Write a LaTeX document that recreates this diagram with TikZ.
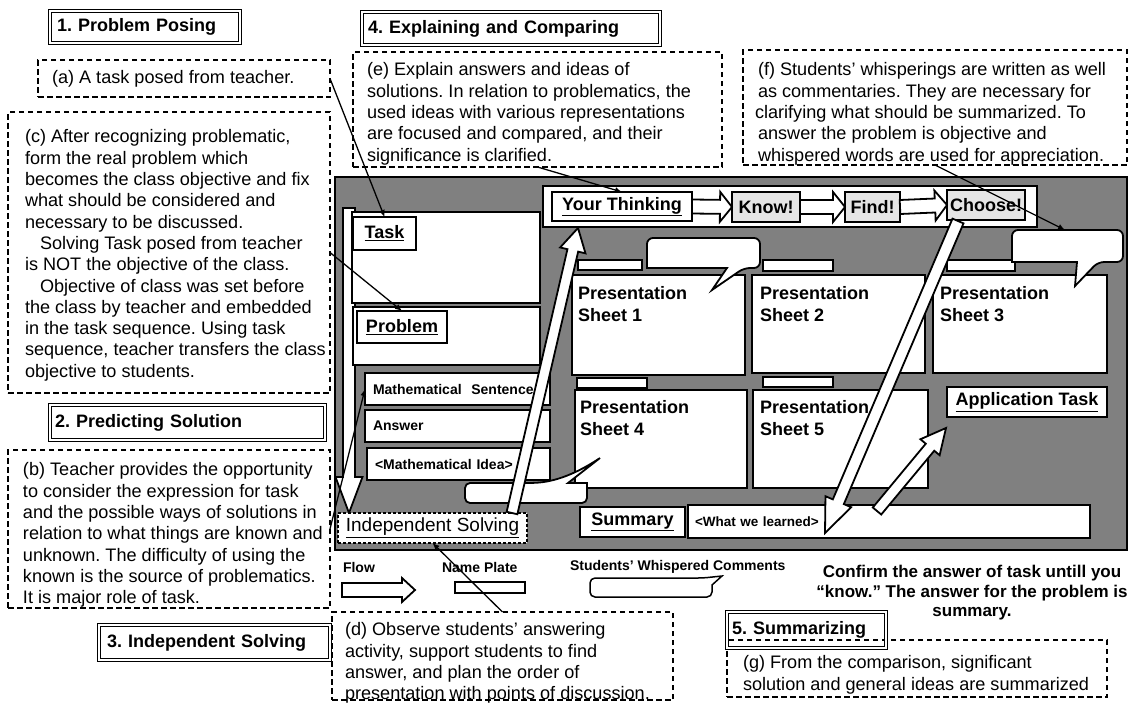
\documentclass[tikz,border=0pt]{standalone}
\usepackage{fontspec}
\setmainfont{Liberation Sans}
\usetikzlibrary{calc,arrows.meta}
\frenchspacing

% Block arrow drawn as an outlined polygon:
% #1 tail, #2 tip, #3 shaft half-width, #4 head half-width, #5 head length
\newcommand\blockarrow[5]{%
  \path ($(#2)!#5!(#1)$) coordinate (babase);
  \draw[blockarr] ($(#1)!#3!90:(#2)$) -- ($(babase)!#3!90:(#2)$)
    -- ($(babase)!#4!90:(#2)$) -- (#2) -- ($(babase)!#4!-90:(#2)$)
    -- ($(babase)!#3!-90:(#2)$) -- ($(#1)!#3!-90:(#2)$) -- cycle;
}

\begin{document}
\begin{tikzpicture}[x=1pt,y=-1pt,
  every node/.style={inner sep=0pt,outer sep=0pt},
  txt/.style={anchor=north west,align=left,font=\fontsize{18.1}{21.3}\selectfont},
  note/.style={draw,fill=white,line width=2pt,dash pattern=on 5.5pt off 3.5pt},
  heading/.style={draw,double,double distance=2.2pt,line width=1pt,align=left,
    font=\bfseries\fontsize{18}{21}\selectfont},
  board/.style={draw,line width=2.5pt,fill=black!50},
  panel/.style={draw,line width=1.8pt,fill=white},
  plate/.style={draw,line width=1.5pt,fill=white},
  lbl/.style={font=\bfseries\fontsize{18}{21}\selectfont},
  mbox/.style={panel,align=left,font=\bfseries\fontsize{14}{16}\selectfont},
  stepbox/.style={draw,line width=1.3pt,fill=black!10,font=\bfseries\fontsize{18}{21}\selectfont},
  sheettxt/.style={txt,font=\bfseries\fontsize{18}{21.8}\selectfont},
  blockarr/.style={draw,fill=white,line width=1.8pt,line join=miter},
  bubble/.style={draw,fill=white,line width=1.8pt},
  conn/.style={line width=1.3pt,-{Latex[length=7pt,width=6pt]}},
  small/.style={font=\bfseries\fontsize{14}{16}\selectfont},
]
\useasboundingbox (0,0) rectangle (1130,704);

% ---------- explanatory notes ----------
\node[note,minimum width=292,minimum height=37] (a) at (184,78.5) {};
\node[txt] (at) at (52,69) {\strut(a) A task posed from teacher.};

\node[note,minimum width=322,minimum height=281] (c) at (169,252.5) {};
\node[txt] (ct) at (25,128) {\strut(c) After recognizing problematic,\\
form the real problem which\\
becomes the class objective and fix\\
what should be considered and\\
necessary to be discussed.\\
\hspace*{15pt}Solving Task posed from teacher\\
is NOT the objective of the class.\\
\hspace*{15pt}Objective of class was set before\\
the class by teacher and embedded\\
in the task sequence. Using task\\
sequence, teacher transfers the class\\
objective to students.};

\node[note,minimum width=322,minimum height=158] (b) at (169,529) {};
\node[txt] (bt) at (23,461) {\strut(b) Teacher provides the opportunity\\
to consider the expression for task\\
and the possible ways of solutions in\\
relation to what things are known and\\
unknown. The difficulty of using the\\
known is the source of problematics.\\
It is major role of task.};

\node[note,minimum width=369,minimum height=115] (e) at (537.5,109.5) {};
\node[txt] (et) at (367,61) {\strut(e) Explain answers and ideas of\\
solutions. In relation to problematics, the\\
used ideas with various representations\\
are focused and compared, and their\\
significance is clarified.};

\node[note,minimum width=384,minimum height=115] (f) at (935,107.5) {};
\node[txt] (ft) at (758,61) {\strut(f) Students’ whisperings are written as well\\
as commentaries. They are necessary for\\
\hspace*{-3pt}clarifying what should be summarized. To\\
answer the problem is objective and\\
whispered words are used for appreciation.};

\node[note,minimum width=341,minimum height=88] (d) at (502.5,656) {};
\node[txt] (dt) at (345,621) {\strut(d) Observe students’ answering\\
activity, support students to find\\
answer, and plan the order of\\
presentation with points of discussion.};

\node[note,minimum width=380,minimum height=57] (g) at (917,668.5) {};
\node[txt] (gt) at (743,654) {\strut(g) From the comparison, significant\\
solution and general ideas are summarized};

% ---------- phase headings ----------
\node[heading,minimum width=190,minimum height=32,text width=176] (t1) at (145,27) {1. Problem Posing};
\node[heading,minimum width=275,minimum height=35,text width=265] (t2) at (187.5,422.5) {2. Predicting Solution};
\node[heading,minimum width=231,minimum height=35,text width=215] (t3) at (214.5,642.5) {3. Independent Solving};
\node[heading,minimum width=298,minimum height=33,text width=286] (t4) at (511,28.5) {4. Explaining and Comparing};
\node[heading,minimum width=159,minimum height=36,text width=149] (t5) at (806.5,630) {5. Summarizing};

% ---------- blackboard ----------
\node[board,minimum width=792,minimum height=373] (board) at (731,363.5) {};

% flow down the left side
\coordinate (flowtop) at (349,208);
\coordinate (flowtip) at (349,513);
\blockarrow{flowtop}{flowtip}{6pt}{13.5pt}{36pt}

% task and problem panels
\node[panel,minimum width=188,minimum height=91] (taskp) at (446,257.5) {};
\node[panel,minimum width=187,minimum height=58] (probp) at (446.5,336) {};
\node[panel,lbl,minimum width=63,minimum height=33] (tasklbl) at (384.5,233.5) {\underline{Task}};
\node[panel,lbl,minimum width=90,minimum height=32] (problbl) at (402,327) {\underline{Problem}};

% students' solution cards
\node[mbox,minimum width=185,minimum height=32,text width=169] (mathsent) at (457.5,389) {Mathematical\hspace{5pt} Sentence};
\node[mbox,minimum width=185,minimum height=32,text width=169] (answer) at (457.5,426) {Answer};
\node[mbox,minimum width=183,minimum height=32,text width=167] (mathidea) at (458.5,464) {<Mathematical Idea>};

% thinking strip
\node[panel,minimum width=494,minimum height=41] (strip) at (790,206.5) {};
\node[panel,lbl,line width=1.5pt,minimum width=140,minimum height=29] (ythink) at (622,206.5) {\underline{Your Thinking}};
\node[stepbox,minimum width=68,minimum height=30] (know) at (766,207) {Know!};
\node[stepbox,minimum width=55,minimum height=30] (find) at (872.5,207) {Find!};
\node[stepbox,minimum width=78,minimum height=30] (choose) at (986,205) {Choose!};
\blockarrow{ythink.east}{know.west}{7pt}{15pt}{12pt}
\blockarrow{know.east}{find.west}{7pt}{15pt}{12pt}
\blockarrow{find.east}{choose.west}{7pt}{15pt}{12pt}

% name plates
\node[plate,minimum width=64,minimum height=10] (np1) at (610,265) {};
\node[plate,minimum width=70,minimum height=11] (np2) at (798,265.5) {};
\node[plate,minimum width=68,minimum height=11] (np3) at (981,265.5) {};
\node[plate,minimum width=70,minimum height=10] (np4) at (612,383) {};
\node[plate,minimum width=70,minimum height=10] (np5) at (798,382) {};

% presentation sheets
\node[panel,minimum width=173,minimum height=100] (s1) at (658.5,325) {};
\node[panel,minimum width=173,minimum height=98] (s2) at (838.5,324) {};
\node[panel,minimum width=174,minimum height=98] (s3) at (1020,324) {};
\node[panel,minimum width=172,minimum height=98] (s4) at (661,439) {};
\node[panel,minimum width=175,minimum height=98] (s5) at (840.5,439) {};
\node[sheettxt] (s1t) at (578,284) {\strut Presentation\\Sheet 1};
\node[sheettxt] (s2t) at (760,284) {\strut Presentation\\Sheet 2};
\node[sheettxt] (s3t) at (940,284) {\strut Presentation\\Sheet 3};
\node[sheettxt] (s4t) at (580,398) {\strut Presentation\\Sheet 4};
\node[sheettxt] (s5t) at (760,398) {\strut Presentation\\Sheet 5};

% whispered-comment bubbles
\draw[bubble] (647,253) [rounded corners=6pt] -- (647,238) -- (760,238) -- (760,268)
  -- (744,268) [sharp corners] -- (712,290) -- (727,268) -- (647,268) [rounded corners=6pt] -- cycle;
\draw[bubble] (1012,246) [rounded corners=6pt] -- (1012,230) -- (1123,230) -- (1123,262)
  -- (1098,262) [sharp corners] -- (1075,286) -- (1077,262) -- (1012,262) [rounded corners=6pt] -- cycle;
\draw[bubble] (465,493) [rounded corners=5pt] -- (465,483) -- (533,483) [sharp corners]
  .. controls (560,481) and (582,470) .. (600,458) -- (568,483) -- (587,483) [rounded corners=5pt]
  -- (587,503) -- (465,503) -- cycle;
\coordinate (bub2top) at (1065,230);

% application task and summary
\node[panel,lbl,minimum width=160,minimum height=30] (apptask) at (1027,402) {\underline{Application Task}};
\node[panel,lbl,minimum width=105,minimum height=30] (summary) at (632.5,522) {\underline{Summary}};
\node[panel,align=left,font=\bfseries\fontsize{13.5}{16}\selectfont,minimum width=402,minimum height=33,text width=388] (learned) at (889,521.5) {<What we learned>};

% name plate of independent solving
\node[draw,fill=white,line width=1.8pt,densely dashed,minimum width=189,minimum height=30,
  font=\fontsize{19}{22}\selectfont] (indep) at (432.5,528) {\underline{Independent Solving}};

% big flow arrows across the board
\coordinate (upA) at (512,513);
\coordinate (upB) at (578,228);
\blockarrow{upA}{upB}{5.5pt}{13pt}{23pt}
\coordinate (dnA) at (958,221);
\coordinate (dnB) at (825,533);
\blockarrow{dnA}{dnB}{6pt}{14pt}{34pt}
\coordinate (apA) at (877,511);
\coordinate (apB) at (946,428);
\blockarrow{apA}{apB}{5.5pt}{12.5pt}{25pt}

% ---------- legend ----------
\node[small,anchor=west] (lgflow) at (343,567) {Flow};
\node[small,anchor=west] (lgplate) at (442,567) {Name Plate};
\node[small,anchor=west] (lgbubble) at (570,567) {Students’ Whispered Comments};
\coordinate (lf1) at (342,590);
\coordinate (lf2) at (415,590);
\blockarrow{lf1}{lf2}{7pt}{12pt}{13pt}
\node[plate,minimum width=70,minimum height=11] (npleg) at (490,587.5) {};
\draw[bubble,line width=1.5pt] (590,588) [rounded corners=5pt] -- (590,578) -- (703,578) [sharp corners]
  -- (722,576) -- (712,585) [rounded corners=5pt] -- (712,597) -- (590,597) -- cycle;

\node[anchor=north,align=center,font=\bfseries\fontsize{17}{19.5}\selectfont] (confirm) at (972,564)
  {\strut Confirm the answer of task untill you\\“know.” The answer for the problem is\\summary.};

% ---------- connectors from notes ----------
\draw[conn] (a.east) -- (tasklbl.north);
\draw[conn] (c.east) -- (problbl.north);
\draw[conn] (e.south) -- (ythink.north);
\draw[conn] (f.south) -- (bub2top);
\draw[conn] (d.north) -- (indep.south);
\draw[conn] (b.east) -- (mathsent.west);
\end{tikzpicture}
\end{document}
